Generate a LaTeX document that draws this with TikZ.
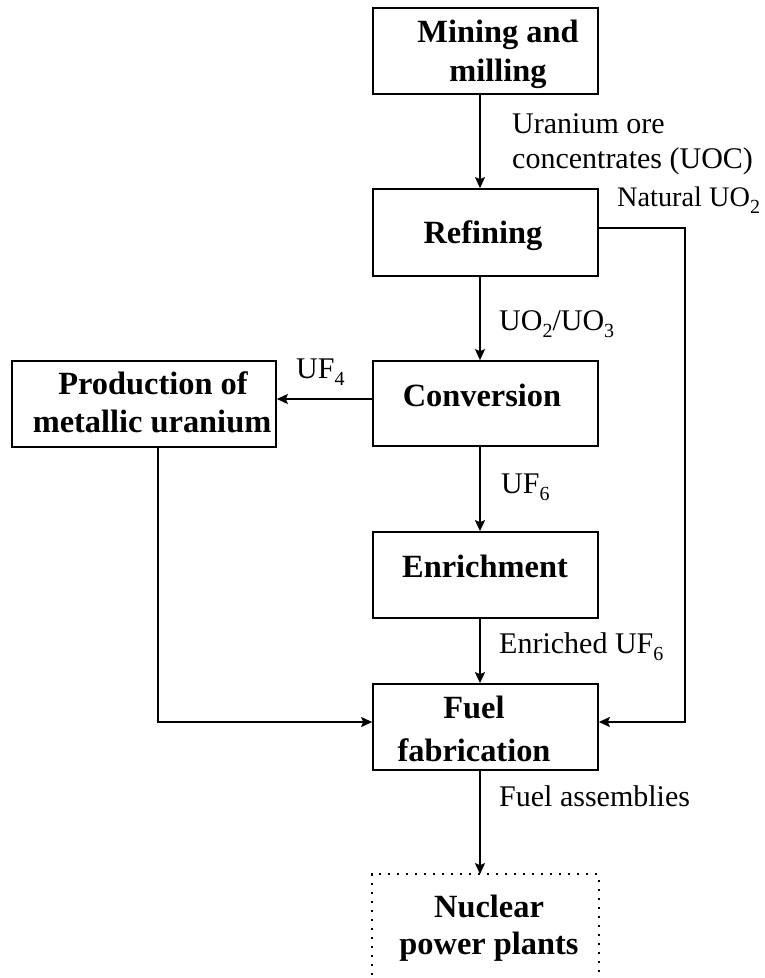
\documentclass[tikz,border=0pt]{standalone}
\usepackage{fontspec}
\setmainfont{Liberation Serif}
\usetikzlibrary{arrows.meta}
% lowered, smaller digit for chemical formulas
\newcommand{\chemsub}[1]{\raisebox{-7pt}{\fontsize{20}{20}\selectfont #1}}
\begin{document}
\begin{tikzpicture}[x=1pt,y=-1pt,
  stage/.style={draw,line width=1.7pt,inner sep=0pt,minimum width=225pt,minimum height=86pt},
  title/.style={font=\fontsize{32.4}{38}\selectfont\bfseries,inner sep=0pt,anchor=base},
  flow/.style={font=\fontsize{30}{36}\selectfont,inner sep=0pt,anchor=base west},
  link/.style={line width=1.7pt},
  arr/.style={link,-{Stealth[length=11pt,width=10pt,inset=2pt]}},
]
\useasboundingbox (0,0) rectangle (764,978);
\fill[white] (0,0) rectangle (764,978);

% process stages
\node[stage] (mine)   at (485.5,51)    {};
\node[stage,minimum height=87pt] (refine) at (485.5,232.5) {};
\node[stage,minimum height=85pt] (conv)   at (485.5,403.5) {};
\node[stage,minimum width=264pt] (prod) at (144,404) {};
\node[stage] (enrich) at (485.5,575)   {};
\node[stage] (fuel)   at (485.5,727)   {};
\node[stage,draw=none,minimum height=135pt] (plant) at (485.5,942.5) {};
\draw[line width=1.8pt,dash pattern=on 1.8pt off 7.2pt]
  (plant.south west) -- (plant.north west) -- (plant.north east) -- (plant.south east);

% stage titles
\node[title] (mineA)   at (498,42)  {Mining and};
\node[title] (mineB)   at (498,81)  {milling};
\node[title] (refineT) at (483,243) {Refining};
\node[title] (convT)   at (482,406) {Conversion};
\node[title] (prodA)   at (153,394) {Production of};
\node[title] (prodB)   at (152,432) {metallic uranium};
\node[title] (enrichT) at (485,577) {Enrichment};
\node[title] (fuelA)   at (474,718) {Fuel};
\node[title] (fuelB)   at (474,761) {fabrication};
\node[title] (plantA)  at (489,917) {Nuclear};
\node[title] (plantB)  at (489,954) {power plants};

% connectors
\coordinate (axis)   at (480,0);
\coordinate (drop)   at (158,0);
\coordinate (bypass) at (685,0);
\draw[arr] (mine.south -| axis)   -- (refine.north -| axis);
\draw[arr] (refine.south -| axis) -- (conv.north -| axis);
\draw[arr] (conv.south -| axis)   -- (enrich.north -| axis);
\draw[arr] (enrich.south -| axis) -- (fuel.north -| axis);
\draw[arr] (fuel.south -| axis)   -- (plant.north -| axis);
\draw[arr] ([yshift=4.5pt]conv.west) -- ([yshift=4.5pt]conv.west -| prod.east);
\draw[arr] (prod.south -| drop) |- ([yshift=5pt]fuel.west);
\draw[arr] ([yshift=4.5pt]refine.east) -| ([yshift=5pt]bypass |- fuel.east) -- ([yshift=5pt]fuel.east);

% material labels
\node[flow] (oreA)    at (512,133) {Uranium ore};
\node[flow] (oreB)    at (512,168) {concentrates (UOC)};
\node[flow,font=\fontsize{28.3}{34}\selectfont] (natural) at (617,206) {Natural UO\chemsub{2}};
\node[flow] (oxides)  at (499,330) {UO\chemsub{2}/UO\chemsub{3}};
\node[flow] (uf4)     at (296,378) {UF\chemsub{4}};
\node[flow] (uf6)     at (501,493) {UF\chemsub{6}};
\node[flow] (enruf6)  at (499,653) {Enriched UF\chemsub{6}};
\node[flow] (assemb)  at (499,806) {Fuel assemblies};
\end{tikzpicture}
\end{document}
